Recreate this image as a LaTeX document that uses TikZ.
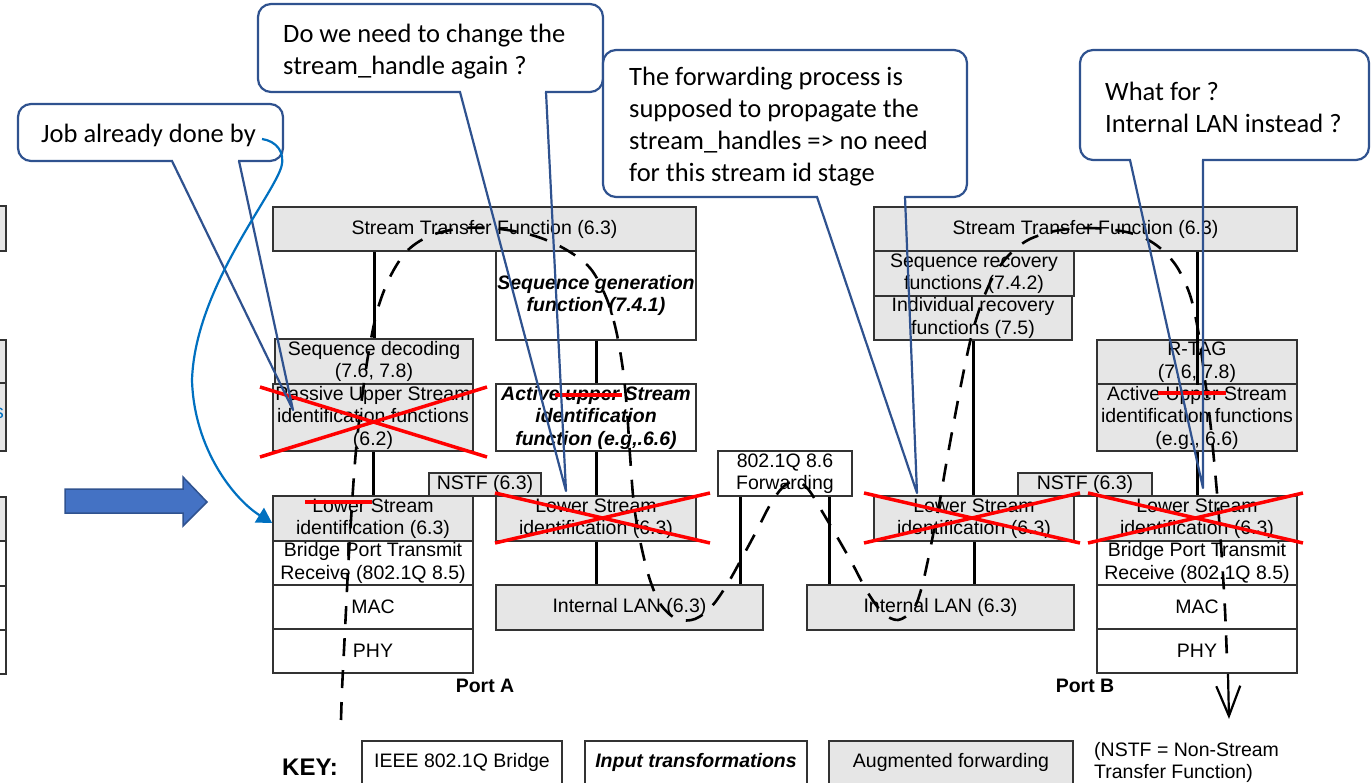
\documentclass[tikz,border=0pt]{standalone}
\usepackage{fontspec}
\setmainfont{Liberation Sans}
\newfontfamily\calloutfont{Carlito}
\usetikzlibrary{arrows.meta,calc}

\definecolor{boxgray}{RGB}{230,230,230}
\definecolor{noteblue}{RGB}{47,82,143}
\definecolor{curveblue}{RGB}{0,112,192}
\definecolor{blockblue}{RGB}{68,114,196}
\definecolor{strikered}{RGB}{255,0,0}

\tikzset{
  frame/.style={draw=black!80, line width=1.8pt},
  blk/.style={frame, inner sep=0pt, align=center, font=\fontsize{19.5}{22.5}\selectfont},
  gbox/.style={blk, fill=boxgray},
  wbox/.style={blk, fill=white},
  bi/.style={font=\fontsize{19.5}{22.5}\selectfont\bfseries\itshape},
  wh/.style n args={2}{minimum width=#1pt, minimum height=#2pt},
  link/.style={draw=black, line width=3pt},
  streampath/.style={draw=black, line width=2.6pt, dash pattern=on 18pt off 14pt},
  redx/.style={draw=strikered, line width=3.5pt},
  notebox/.style={draw=noteblue, line width=2.2pt, fill=white, rounded corners=13pt, inner sep=0pt},
  notetext/.style={font=\calloutfont\fontsize{26.5}{32}\selectfont, align=left, inner sep=0pt, anchor=west},
  notetail/.style={draw=noteblue, line width=2.2pt, line join=round},
  portlbl/.style={font=\fontsize{19.5}{22}\selectfont\bfseries, inner sep=0pt},
}

\begin{document}
\begin{tikzpicture}[x=1pt,y=-1pt]
\useasboundingbox (0,0) rectangle (1371,783);

% boxes running off the left edge
\foreach \ya/\yb/\c in {206/251/boxgray, 340/383/boxgray, 383/451/boxgray, 497/541/boxgray, 541/586/white, 586/630/white, 630/674/white}
  \draw[frame, fill=\c] (-10,\ya) rectangle (6,\yb);
\node[anchor=base east, inner sep=0pt, text=curveblue, font=\fontsize{19.5}{22}\selectfont] (edgeglyph) at (4,419) {s};

% block arrow
\draw[draw=noteblue, line width=1.5pt, fill=blockblue]
  (65,489) -- (183,489) -- (183,477) -- (207,502) -- (183,526) -- (183,513) -- (65,513) -- cycle;

% ---- Port A side ----
\node[gbox, wh={423}{44}] (stfA) at (484.5,229) {Stream Transfer Function (6.3)};
\node[wbox, bi, wh={200}{89}] (seqgen) at (596,295.5) {Sequence generation\\function (7.4.1)};
\node[gbox, wh={198}{45}] (seqdec) at (374,361.5) {Sequence decoding\\(7.6, 7.8)};
\node[gbox, wh={200}{67}] (passive) at (373,417.5) {Passive Upper Stream\\identification functions\\(6.2)};
\node[wbox, bi, wh={200}{67}] (activeA) at (596,417.5) {Active upper Stream\\identification\\function (e.g,.6.6)};
\node[gbox, wh={112}{23}] (nstfA) at (485,484.5) {NSTF (6.3)};
\node[gbox, wh={200}{45}] (lsidA) at (373,518.5) {Lower Stream\\identification (6.3)};
\node[wbox, wh={200}{44}] (bptA) at (373,563) {Bridge Port Transmit\\Receive (802.1Q 8.5)};
\node[wbox, wh={200}{44}] (macA) at (373,607) {MAC};
\node[wbox, wh={200}{44}] (phyA) at (373,651) {PHY};
\node[gbox, wh={200}{45}] (lsidM) at (596,518.5) {Lower Stream\\identification (6.3)};
\node[gbox, wh={267}{45}] (lanL) at (629.5,607.5) {Internal LAN (6.3)};
\node[portlbl] (portA) at (485,686) {Port A};

% ---- forwarding ----
\node[wbox, wh={134}{45}] (fwd) at (785,473.5) {802.1Q 8.6\\Forwarding};
\node[gbox, wh={267}{45}] (lanR) at (940.5,607.5) {Internal LAN (6.3)};

% ---- Port B side ----
\node[gbox, wh={423}{44}] (stfB) at (1085.5,229) {Stream Transfer Function (6.3)};
\node[gbox, wh={200}{45}] (seqrec) at (974,273.5) {Sequence recovery\\functions (7.4.2)};
\node[gbox, wh={198}{44}] (indrec) at (973,318) {Individual recovery\\functions (7.5)};
\node[gbox, wh={200}{44}] (rtag) at (1197,362) {R-TAG\\(7.6, 7.8)};
\node[gbox, wh={200}{67}] (activeB) at (1197,417.5) {Active Upper Stream\\identification functions\\(e.g., 6.6)};
\node[gbox, wh={134}{23}] (nstfB) at (1085,484.5) {NSTF (6.3)};
\node[gbox, wh={200}{45}] (lsidN) at (974,518.5) {Lower Stream\\identification (6.3)};
\node[gbox, wh={200}{45}] (lsidB) at (1197,518.5) {Lower Stream\\identification (6.3)};
\node[wbox, wh={200}{44}] (bptB) at (1197,563) {Bridge Port Transmit\\Receive (802.1Q 8.5)};
\node[wbox, wh={200}{44}] (macB) at (1197,607) {MAC};
\node[wbox, wh={200}{44}] (phyB) at (1197,651) {PHY};
\node[portlbl] (portB) at (1085,686) {Port B};

% ---- solid links ----
\draw[link] (seqdec.north |- stfA.south) -- (seqdec.north);
\draw[link] (seqgen.south) -- (activeA.north);
\draw[link] (passive.south) -- (lsidA.north);
\draw[link] (activeA.south) -- (lsidM.north);
\draw[link] (lsidM.south) -- (lsidM.south |- lanL.north);
\coordinate (fwdL) at ([xshift=-45pt]fwd.south);
\coordinate (fwdR) at ([xshift=44pt]fwd.south);
\draw[link] (fwdL) -- (fwdL |- lanL.north);
\draw[link] (fwdR) -- (fwdR |- lanR.north);
\draw[link] (indrec.south) -- (indrec.south |- lsidN.north);
\draw[link] (lsidN.south) -- (lsidN.south |- lanR.north);
\draw[link] (rtag.south |- stfB.south) -- (rtag.south);
\draw[link] (activeB.south) -- (lsidB.north);

% ---- stream path through the bridge ----
\draw[streampath] plot[smooth, tension=0.55] coordinates {
 (341,720) (342,690) (344,650) (346,610) (348,570) (351,520) (354,475) (357,440)
 (362,398) (369,350) (378,308) (391,275) (408,250) (432,235) (465,228) (500,229)
 (535,236) (565,249) (590,268) (606,297) (616,330) (623,370) (627,410) (630,455)
 (634,505) (641,545) (650,580) (661,605) (677,619) (695,619) (712,606) (728,583)
 (743,556) (757,530) (770,505) (783,487) (796,481) (808,489) (820,508) (836,535)
 (852,563) (868,593) (883,613) (898,620) (913,610) (921,590) (928,560) (934,530)
 (940,500) (946,465) (952,432) (959,395) (966,360) (973,330) (982,302) (993,277)
 (1008,256) (1028,240) (1055,231) (1085,228) (1115,230) (1140,236) (1160,248)
 (1177,267) (1190,295) (1198,330) (1205,380) (1210,420) (1214,460) (1218,505)
 (1222,560) (1225,610) (1227,660)};
\coordinate (pathend) at ([xshift=31pt]phyB.south);
\draw[line width=2.2pt, -{Straight Barb[length=30pt,width=24pt]}] (pathend) -- ++(1,45);

% ---- red strike-outs ----
\draw[redx] (260,387) -- (487,457);
\draw[redx] (260,457) -- (487,387);
\draw[redx] (305,502) -- (372,502);
\draw[redx] (555,395) -- (622,395);
\draw[redx] (1158,393) -- (1226,393);
\draw[redx] (495,493) -- (710,543);
\draw[redx] (495,543) -- (710,493);
\draw[redx] (864,493) -- (1080,543);
\draw[redx] (864,543) -- (1080,493);
\draw[redx] (1088,493) -- (1303,543);
\draw[redx] (1088,543) -- (1303,493);

% ---- key ----
\node[font=\fontsize{24}{28}\selectfont\bfseries, inner sep=0pt] (keylbl) at (310,767) {KEY:};
\node[wbox, wh={200}{59}] (key1) at (462,770.5) {};
\node[wbox, wh={222}{59}] (key2) at (696,770.5) {};
\node[gbox, wh={244}{59}] (key3) at (951,770.5) {};
\node[font=\fontsize{19.5}{22}\selectfont, inner sep=0pt] (key1t) at (462,762) {IEEE 802.1Q Bridge};
\node[bi, inner sep=0pt] (key2t) at (696,762) {Input transformations};
\node[font=\fontsize{19.5}{22}\selectfont, inner sep=0pt] (key3t) at (951,762) {Augmented forwarding};
\node[font=\fontsize{19.5}{22}\selectfont, inner sep=0pt, align=left, anchor=west] (keynote) at (1094,762) {(NSTF = Non-Stream\\Transfer Function)};

% ---- remarks ----
% 1
\node[notebox, wh={265}{57}] (c1) at (150.5,132.5) {};
\node[notetext] (c1t) at (41,135) {Job already done by};
\coordinate (c1a) at (172,161);
\coordinate (c1b) at (239,161);
\coordinate (c1tip) at (293,410);
\draw[white, line width=3.2pt] ([xshift=1.2pt]c1a) -- ([xshift=-1.2pt]c1b);
\draw[notetail] (c1a) -- (c1tip) -- (c1b);
\draw[draw=curveblue, line width=2.2pt, -{Triangle[length=15pt,width=17pt]}]
  (262,139) .. controls (276,141) and (286,152) .. (281,168)
  .. controls (270,200) and (195,290) .. (192,380)
  .. controls (194,450) and (235,500) .. (lsidA.west |- 0,523);

% 2
\node[notebox, wh={345}{88}] (c2) at (430.5,48) {};
\node[notetext] (c2t) at (283,51.5) {Do we need to change the\\stream\_handle again ?};
\coordinate (c2a) at (460,92);
\coordinate (c2b) at (546,92);
\coordinate (c2tip) at (566,491);
\draw[white, line width=3.2pt] ([xshift=1.2pt]c2a) -- ([xshift=-1.2pt]c2b);
\draw[notetail] (c2a) -- (c2tip) -- (c2b);

% 3
\node[notebox, wh={364}{147}] (c3) at (785,123.5) {};
\node[notetext] (c3t) at (629,127) {The forwarding process is\\supposed to propagate the\\stream\_handles => no need\\for this stream id stage};
\coordinate (c3a) at (817,197);
\coordinate (c3b) at (905,197);
\coordinate (c3tip) at (917,493);
\draw[white, line width=3.2pt] ([xshift=1.2pt]c3a) -- ([xshift=-1.2pt]c3b);
\draw[notetail] (c3a) -- (c3tip) -- (c3b);

% 4
\node[notebox, wh={289}{110}] (c4) at (1224.5,105) {};
\node[notetext] (c4t) at (1105,107) {What for ?\\Internal LAN instead ?};
\coordinate (c4a) at (1130,160);
\coordinate (c4b) at (1203,160);
\coordinate (c4tip) at (1203,488);
\draw[white, line width=3.2pt] ([xshift=1.2pt]c4a) -- ([xshift=-1.2pt]c4b);
\draw[notetail] (c4a) -- (c4tip) -- (c4b);

\end{tikzpicture}
\end{document}
